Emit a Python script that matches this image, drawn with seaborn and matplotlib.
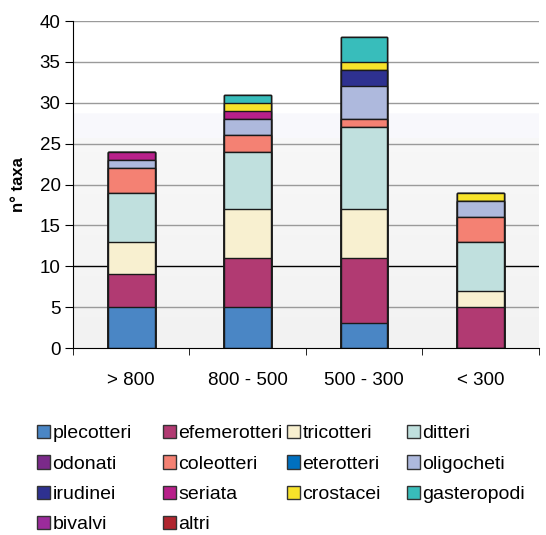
import numpy as np
import pandas as pd
import seaborn as sns
import matplotlib.pyplot as plt
from matplotlib.patches import Patch

# categories and taxa counts
cats = ['> 800', '800 - 500', '500 - 300', '< 300']
plecotteri = [5, 5, 3, 0]
efemerotteri = [4, 6, 8, 5]
tricotteri = [4, 6, 6, 2]
ditteri = [6, 7, 10, 6]
odonati = [0, 0, 0, 0]
coleotteri = [3, 2, 1, 3]
eterotteri = [0, 0, 0, 0]
oligocheti = [1, 2, 4, 2]
irudinei = [0, 0, 2, 0]
seriata = [1, 1, 0, 0]
crostacei = [0, 1, 1, 1]
gasteropodi = [0, 1, 3, 0]
bivalvi = [0, 0, 0, 0]
altri = [0, 0, 0, 0]

series = [
    ('plecotteri', plecotteri, '#4A86C5'),
    ('efemerotteri', efemerotteri, '#B13A72'),
    ('tricotteri', tricotteri, '#F8F0D0'),
    ('ditteri', ditteri, '#C0E0DE'),
    ('odonati', odonati, '#7B2A8A'),
    ('coleotteri', coleotteri, '#F48173'),
    ('eterotteri', eterotteri, '#0070C0'),
    ('oligocheti', oligocheti, '#AEB9DD'),
    ('irudinei', irudinei, '#2E3190'),
    ('seriata', seriata, '#B8208A'),
    ('crostacei', crostacei, '#F8E32A'),
    ('gasteropodi', gasteropodi, '#38BDBB'),
    ('bivalvi', bivalvi, '#9B2B9B'),
    ('altri', altri, '#B0262F'),
]

plt.rcParams['font.family'] = ['Liberation Sans', 'DejaVu Sans']

fig = plt.figure(figsize=(5.46, 5.35), dpi=100)
ax = fig.add_axes([0.1337, 0.3495, 0.8533, 0.6112])

# soft vertical background gradient
grad = np.ones((400, 1, 3))
yy = np.linspace(0, 40, 400)[:, None]
base = np.where(yy > 28.7, 1.0, np.where(yy > 25.7, 0.975, 0.95 + 0.02 * yy / 25.7))
grad[:, :, 0] = base
grad[:, :, 1] = base
grad[:, :, 2] = np.where((yy > 25.7) & (yy <= 28.7), 0.99, base)
ax.imshow(grad, extent=[-0.5, 3.5, 0, 40], origin='lower', aspect='auto', zorder=0)

for v in range(5, 45, 5):
    ax.axhline(v, color='black' if v == 10 else '#9a9a9a', lw=1.0, zorder=1)

# stacked bars: draw cumulative totals from top layer down
df = pd.DataFrame({name: vals for name, vals, _ in series}, index=cats)
cum = df.cumsum(axis=1)
for name, _, color in reversed(series):
    sns.barplot(x=cats, y=cum[name].values, color=color, width=0.4,
                edgecolor='#1a1a1a', linewidth=1.0, saturation=1, ax=ax, zorder=3)

ax.set_xlim(-0.5, 3.5)
ax.set_ylim(0, 40)
ax.set_yticks(range(0, 45, 5))
ax.tick_params(axis='y', labelsize=13.5, length=6, pad=3, direction='out')
ax.tick_params(axis='x', which='major', length=0, labelsize=13.5, pad=17)
ax.set_xticks([-0.5, 0.5, 1.5, 2.5, 3.5], minor=True)
ax.tick_params(axis='x', which='minor', length=5)
ax.set_ylabel('n° taxa', fontsize=12, fontweight='bold', labelpad=9.5)
ax.set_xlabel('')
for s in ['top', 'right']:
    ax.spines[s].set_visible(False)
for s in ['left', 'bottom']:
    ax.spines[s].set_color('black')
    ax.spines[s].set_zorder(5)

# legend laid out in fixed columns, row-wise like the original
handles = [Patch(facecolor=c, edgecolor='#333333', lw=1, label=n) for n, _, c in series]
col_x = [37, 163, 287, 407]
for j, x in enumerate(col_x):
    hs = handles[j::4]
    leg = fig.legend(hs, [h.get_label() for h in hs], loc='upper left',
                     bbox_to_anchor=(x / 546, 1 - 425 / 535), frameon=False,
                     fontsize=14, handlelength=0.68, handleheight=0.68,
                     handletextpad=0.12, labelspacing=0.66, borderpad=0,
                     borderaxespad=0)

fig.savefig('out.png', dpi=100)
